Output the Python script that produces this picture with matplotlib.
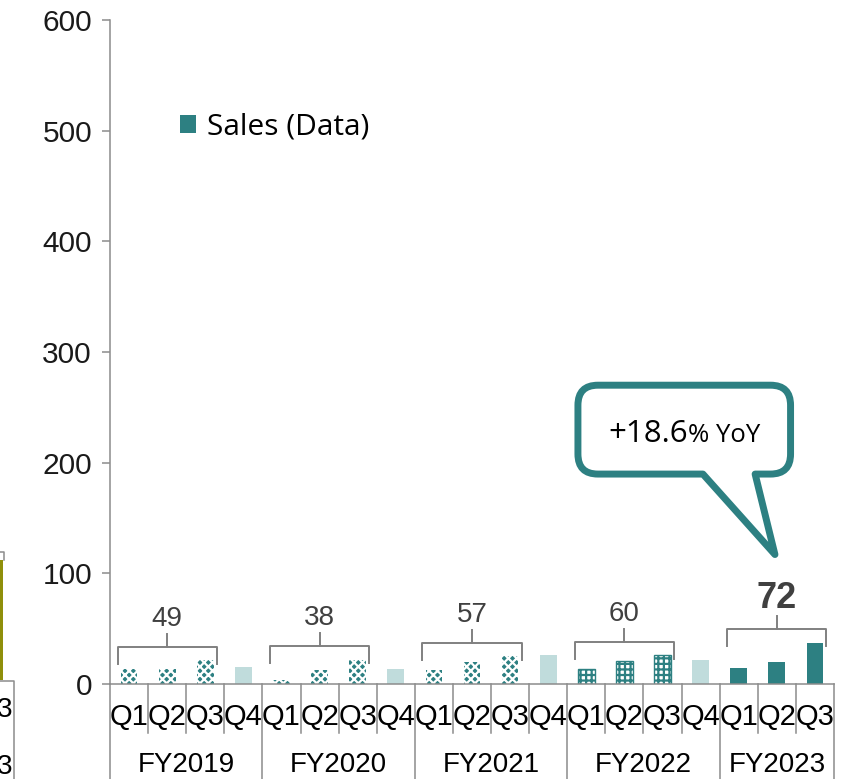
import matplotlib.pyplot as plt
import matplotlib.transforms as mtransforms
from matplotlib.path import Path
from matplotlib.patches import PathPatch, Patch, Rectangle
from matplotlib.lines import Line2D

# Quarterly sales
years = ['FY2019', 'FY2020', 'FY2021', 'FY2022', 'FY2023']
quarters = ['Q1', 'Q2', 'Q3', 'Q4']
fy2019 = [14, 13.5, 21.5, 15.5]
fy2020 = [3.5, 12.5, 22, 14]
fy2021 = [12.5, 19.5, 25, 26]
fy2022 = [13.5, 20.5, 26, 21.5]
fy2023 = [14.5, 20, 37.5]
q1_q3_totals = [49, 38, 57, 60, 72]
yoy_value = '+18.6'
yoy_suffix = '% YoY'

TEAL = '#2d8082'
LIGHT = '#c0dcdc'
GRAY = '#8c8c8c'

plt.rcParams['font.family'] = ['Liberation Sans', 'DejaVu Sans']
plt.rcParams['hatch.linewidth'] = 1.6

fig = plt.figure(figsize=(8.43, 7.79), dpi=100)
ax = fig.add_axes([110 / 843, 1 - 684 / 779, 724 / 843, 664 / 779])

series = [fy2019, fy2020, fy2021, fy2022, fy2023]
xpos = []
labels = []
i = 0
for yi, vals in enumerate(series):
    for qi, v in enumerate(vals):
        if qi == 3:
            ax.bar(i, v, width=0.44, color=LIGHT, linewidth=0)
        elif yi <= 2:
            # checkered bars
            ax.bar(i, v, width=0.44, facecolor=TEAL, edgecolor='white', hatch='xxxx', linewidth=0)
        elif yi == 3:
            # dotted bars
            ax.bar(i, v, width=0.44, facecolor='white', edgecolor=TEAL, hatch='+++', linewidth=1)
        else:
            ax.bar(i, v, width=0.44, color=TEAL, linewidth=0)
        xpos.append(i)
        labels.append(quarters[qi])
        i += 1

n = len(xpos)
ax.set_xlim(-0.5, n - 0.5)
ax.set_ylim(0, 600)
ax.set_yticks(range(0, 601, 100))
ax.tick_params(axis='y', labelsize=21.5, length=6, width=1.1, color=GRAY, labelcolor='#1a1a1a', pad=7)
ax.set_xticks(xpos, labels)
ax.tick_params(axis='x', labelsize=21, length=0, pad=14, labelcolor='black')

for s in ['top', 'right']:
    ax.spines[s].set_visible(False)
for s in ['left', 'bottom']:
    ax.spines[s].set_color(GRAY)
    ax.spines[s].set_linewidth(1.1)

# category separators below the axis
trans = mtransforms.blended_transform_factory(ax.transData, ax.transAxes)
start = 0
bounds = []
for vals in series:
    bounds.append((start, start + len(vals)))
    start += len(vals)
for k in range(n + 1):
    edge = k - 0.5
    is_year = any(edge == b[0] - 0.5 or edge == b[1] - 0.5 for b in bounds)
    y_end = -0.15 if is_year else -0.074
    ax.add_line(Line2D([edge, edge], [0, y_end], transform=trans, color=GRAY, lw=1.1, clip_on=False))

for yi, (a, b) in enumerate(bounds):
    ax.text((a + b - 1) / 2, -0.133, years[yi], transform=trans, ha='center', va='baseline', fontsize=20)

# brackets over Q1-Q3 with totals
for yi, (a, b) in enumerate(bounds):
    vals = series[yi][:3]
    top = max(vals) + 12
    x0, x1 = a - 0.3, a + 2 + 0.3
    ax.plot([x0, x0, x1, x1], [top - 15, top, top, top - 15], color='#808080', lw=1.4)
    xc = (x0 + x1) / 2
    ax.plot([xc, xc], [top, top + 12], color='#808080', lw=1.4)
    bold = yi == len(bounds) - 1
    ax.text(xc, top + 19, str(q1_q3_totals[yi]), ha='center', va='baseline',
            fontsize=26 if bold else 20, fontweight='bold' if bold else 'normal', color='#404040')

# legend
leg = ax.legend(handles=[Patch(facecolor=TEAL, edgecolor='none', label='Sales (Data)')],
                loc='center left', bbox_to_anchor=(0.0967, 0.839), frameon=False,
                handlelength=0.55, handleheight=0.55, handletextpad=0.35,
                borderpad=0, borderaxespad=0, prop={'family': 'Open Sans', 'size': 21.5})

# speech bubble
L, R, T, B = 11.78, 17.36, 270, 189.7
rx, ry = 0.525, 18.1
ta, tb = 15.06, 16.43
tip = (16.95, 117)
verts = [(L + rx, T), (R - rx, T), (R, T), (R, T - ry), (R, B + ry), (R, B), (R - rx, B),
         (tb, B), tip, (ta, B), (L + rx, B), (L, B), (L, B + ry), (L, T - ry), (L, T), (L + rx, T),
         (L + rx, T)]
codes = [Path.MOVETO, Path.LINETO, Path.CURVE3, Path.CURVE3, Path.LINETO, Path.CURVE3, Path.CURVE3,
         Path.LINETO, Path.LINETO, Path.LINETO, Path.LINETO, Path.CURVE3, Path.CURVE3, Path.LINETO,
         Path.CURVE3, Path.CURVE3, Path.CLOSEPOLY]
ax.add_patch(PathPatch(Path(verts, codes), facecolor='white', edgecolor=TEAL, lw=5,
                       joinstyle='round', clip_on=False, zorder=5))
ax.text(14.67, 219, yoy_value, ha='right', va='baseline', fontsize=22.5, family='Open Sans', zorder=6)
ax.text(14.67, 219, yoy_suffix, ha='left', va='baseline', fontsize=18.5, family='Open Sans', zorder=6)

# cut-off neighbouring chart at the left edge
fig.patches.append(Rectangle((0, 1 - 680 / 779), 3.5 / 843, 120 / 779, transform=fig.transFigure,
                             facecolor='#8f8f0a', edgecolor='none'))
fig.add_artist(Line2D([0, 4 / 843, 4 / 843], [1 - 552 / 779, 1 - 552 / 779, 1 - 560 / 779],
                      transform=fig.transFigure, color=GRAY, lw=1.1))
fig.add_artist(Line2D([0, 14 / 843, 14 / 843], [1 - 681 / 779, 1 - 681 / 779, 0],
                      transform=fig.transFigure, color=GRAY, lw=1.1))
fig.text(12 / 843, 1 - 710 / 779, '3', ha='right', va='center', fontsize=20)
fig.text(12 / 843, 1 - 767 / 779, '3', ha='right', va='center', fontsize=20)

fig.savefig('out.png', dpi=100, facecolor='white')
